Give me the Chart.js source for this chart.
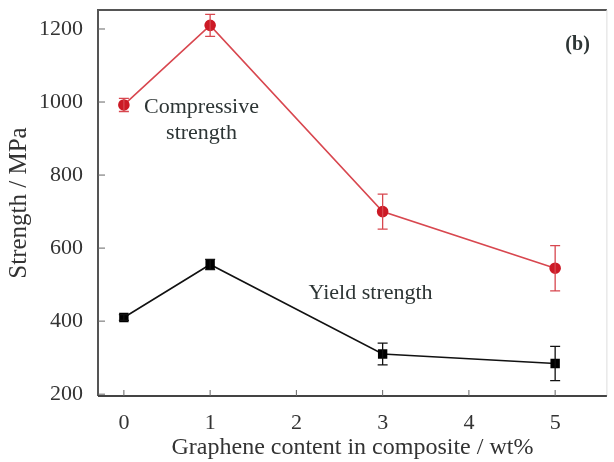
<!DOCTYPE html>
<html>
<head>
<meta charset="utf-8">
<script src="https://cdn.jsdelivr.net/npm/chart.js@4/dist/chart.umd.min.js"></script>
<style>
  html, body { margin: 0; padding: 0; background: #fff; }
  #wrap { width: 614px; height: 462px; }
</style>
</head>
<body>
<div id="wrap"><canvas id="chart"></canvas></div>
<script>
// Data
const graphene = [0, 1, 3, 5];
const compressive = [992, 1210, 700, 545];
const compressiveErr = [18, 30, 48, 62];
const yieldStrength = [410, 555, 310, 284];
const yieldErr = [8, 14, 30, 47];
const xTicks = [0, 1, 2, 3, 4, 5];
const yTicks = [200, 400, 600, 800, 1000, 1200];

// Text labels inside the plot, in data units
const notes = [
  { lines: ["Compressive", "strength"], x: 0.9, y: 986, bold: false },
  { lines: ["Yield strength"], x: 2.86, y: 477, bold: false },
  { lines: ["(b)"], x: 5.26, y: 1156, bold: true }
];

const FONT = "'Liberation Serif', 'DejaVu Serif', serif";
const RED = "#cc1a26";
const RED_LINE = "#d8474f";

// error bars, inner ticks, frame, notes
const extras = {
  id: "extras",
  afterDatasetsDraw(chart) {
    const { ctx, chartArea: a, scales: { x, y } } = chart;
    ctx.save();

    // error bars
    chart.data.datasets.forEach((ds, i) => {
      ctx.strokeStyle = ds.errColor;
      ctx.lineWidth = 1.3;
      ds.data.forEach((p, j) => {
        const px = x.getPixelForValue(p.x);
        const top = y.getPixelForValue(p.y + ds.err[j]);
        const bot = y.getPixelForValue(p.y - ds.err[j]);
        ctx.beginPath();
        ctx.moveTo(px, top); ctx.lineTo(px, bot);
        ctx.moveTo(px - 5, top); ctx.lineTo(px + 5, top);
        ctx.moveTo(px - 5, bot); ctx.lineTo(px + 5, bot);
        ctx.stroke();
      });
    });

    // frame
    ctx.strokeStyle = "#555";
    ctx.lineWidth = 2;
    ctx.beginPath();
    ctx.moveTo(a.left, a.bottom);
    ctx.lineTo(a.left, a.top);
    ctx.lineTo(a.right, a.top);
    ctx.stroke();
    ctx.strokeStyle = "#ddd";
    ctx.lineWidth = 1;
    ctx.beginPath();
    ctx.moveTo(a.right, a.top);
    ctx.lineTo(a.right, a.bottom);
    ctx.stroke();
    ctx.strokeStyle = "#444";
    ctx.lineWidth = 2;
    ctx.beginPath();
    ctx.moveTo(a.left, a.bottom);
    ctx.lineTo(a.right, a.bottom);
    ctx.stroke();

    // inner tick marks
    ctx.strokeStyle = "#666";
    ctx.lineWidth = 1;
    ctx.beginPath();
    xTicks.forEach(v => {
      const px = x.getPixelForValue(v);
      ctx.moveTo(px, a.bottom); ctx.lineTo(px, a.bottom - 6);
    });
    yTicks.forEach(v => {
      const py = y.getPixelForValue(v);
      ctx.moveTo(a.left, py); ctx.lineTo(a.left + 7, py);
    });
    ctx.stroke();

    // notes
    ctx.fillStyle = "#2d3535";
    ctx.textAlign = "center";
    ctx.textBaseline = "middle";
    notes.forEach(n => {
      ctx.font = (n.bold ? "bold 20px " : "22px ") + FONT;
      const px = x.getPixelForValue(n.x);
      const py = y.getPixelForValue(n.y);
      n.lines.forEach((t, k) => ctx.fillText(t, px, py + k * 26));
    });
    ctx.restore();
  }
};

new Chart(document.getElementById("chart"), {
  type: "scatter",
  data: {
    datasets: [
      {
        label: "Compressive strength",
        data: graphene.map((g, i) => ({ x: g, y: compressive[i] })),
        err: compressiveErr,
        errColor: RED_LINE,
        showLine: true,
        borderColor: RED_LINE,
        borderWidth: 1.6,
        pointStyle: "circle",
        pointRadius: 5,
        pointBackgroundColor: RED,
        pointBorderColor: RED
      },
      {
        label: "Yield strength",
        data: graphene.map((g, i) => ({ x: g, y: yieldStrength[i] })),
        err: yieldErr,
        errColor: "#111",
        showLine: true,
        borderColor: "#111",
        borderWidth: 1.6,
        pointStyle: "rect",
        pointRadius: 5.5,
        pointBackgroundColor: "#000",
        pointBorderColor: "#000"
      }
    ]
  },
  options: {
    responsive: true,
    maintainAspectRatio: false,
    animation: false,
    layout: { padding: { top: 10, right: 2, left: 4, bottom: 0 } },
    plugins: { legend: { display: false }, tooltip: { enabled: false } },
    scales: {
      x: {
        type: "linear",
        min: -0.3,
        max: 5.6,
        grid: { display: false },
        border: { display: false },
        afterBuildTicks: s => { s.ticks = xTicks.map(v => ({ value: v })); },
        afterFit: s => { s.height = 66; s.paddingLeft = 0; s.paddingRight = 0; },
        ticks: { color: "#333", font: { family: FONT, size: 22 }, padding: 6, callback: v => String(v) },
        title: {
          display: true,
          text: "Graphene content in composite / wt%",
          color: "#333",
          font: { family: FONT, size: 24 },
          padding: { top: 0, bottom: 0 }
        }
      },
      y: {
        min: 195,
        max: 1252,
        grid: { display: false },
        border: { display: false },
        afterBuildTicks: s => { s.ticks = yTicks.map(v => ({ value: v })); },
        afterFit: s => { s.width = 94; s.paddingTop = 0; s.paddingBottom = 0; },
        ticks: { color: "#333", font: { family: FONT, size: 22 }, padding: 7, callback: v => String(v) },
        title: {
          display: true,
          text: "Strength / MPa",
          color: "#333",
          font: { family: FONT, size: 25 },
          padding: { top: 0, bottom: 4 }
        }
      }
    }
  },
  plugins: [extras]
});
</script>
</body>
</html>
